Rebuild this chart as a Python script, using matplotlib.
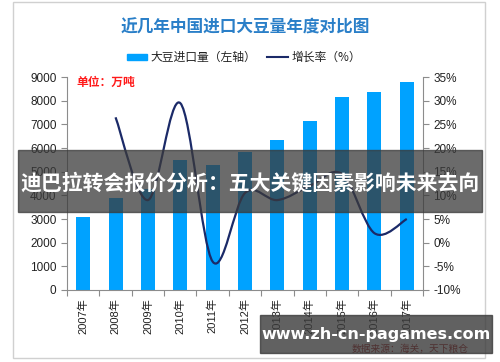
import numpy as np
import matplotlib
matplotlib.use("Agg")
import matplotlib.pyplot as plt
from matplotlib.path import Path
from matplotlib.patches import PathPatch, Rectangle

plt.rcParams['font.family'] = ['Liberation Sans', 'Noto Sans CJK SC', 'DejaVu Sans']

# 数据
years = ['2007年', '2008年', '2009年', '2010年', '2011年', '2012年',
         '2013年', '2014年', '2015年', '2016年', '2017年']
imports = [3082, 3900, 4255, 5480, 5264, 5838, 6338, 7140, 8169, 8391, 8775]
growth_years = [1, 2, 3, 4, 5, 6, 7, 8, 9, 10]
growth = [26.5, 9.0, 29.5, -4.0, 10.5, 9.0, 12.0, 14.5, 2.0, 5.0]

bar_color = '#00A2FF'
line_color = '#1B2A68'
axis_gray = '#8C8C8C'

fig = plt.figure(figsize=(5.0, 3.62), dpi=100)

# 图表外框
fig.patches.append(Rectangle((13 / 500, 0.01), 472 / 500, 0.985, transform=fig.transFigure,
                             fill=False, edgecolor='#D0D0D0', lw=1.0))

ax = fig.add_axes([0.134, 0.199, 0.712, 0.588])
x = np.arange(len(years))
ax.bar(x, imports, width=0.43, color=bar_color, zorder=2)
ax.set_xlim(-0.5, len(years) - 0.5)
ax.set_ylim(0, 9000)
ax.set_yticks(np.arange(0, 9001, 1000))
ax.tick_params(axis='y', labelsize=8.5, colors=axis_gray, labelcolor='#222222',
               direction='out', length=4)

# x 轴：刻度在类别之间，标签在中间
ax.set_xticks(np.arange(-0.5, len(years), 1.0))
ax.set_xticklabels([])
ax.tick_params(axis='x', which='major', direction='out', length=4, colors=axis_gray)
ax.set_xticks(x, minor=True)
ax.set_xticklabels(years, minor=True, rotation=90, fontsize=8, color='#222222')
ax.tick_params(axis='x', which='minor', length=0, pad=6)

for s in ['top', 'right']:
    ax.spines[s].set_visible(False)
for s in ['left', 'bottom']:
    ax.spines[s].set_color(axis_gray)

# 右轴：增长率
ax2 = ax.twinx()
ax2.set_ylim(-10, 35)
ax2.set_yticks(np.arange(-10, 36, 5))
ax2.set_yticklabels([f'{v}%' for v in range(-10, 36, 5)])
ax2.tick_params(axis='y', labelsize=8.5, colors=axis_gray, labelcolor='#222222',
                direction='out', length=4)
for s in ['top', 'left', 'bottom']:
    ax2.spines[s].set_visible(False)
ax2.spines['right'].set_color(axis_gray)

# 平滑曲线（贝塞尔）
px = np.array(growth_years, dtype=float)
py = np.array(growth, dtype=float)
pts = np.column_stack([px, py])
verts = [pts[0]]
codes = [Path.MOVETO]
n = len(pts)
for i in range(n - 1):
    p_prev = pts[i - 1] if i > 0 else pts[i]
    p_next2 = pts[i + 2] if i + 2 < n else pts[i + 1]
    c1 = pts[i] + (pts[i + 1] - p_prev) / 6.0
    c2 = pts[i + 1] - (p_next2 - pts[i]) / 6.0
    verts += [c1, c2, pts[i + 1]]
    codes += [Path.CURVE4] * 3
ax2.add_patch(PathPatch(Path(verts, codes), fill=False, edgecolor=line_color, lw=1.6, zorder=3))

# 标题和图例
fig.text(0.49, 0.925, '近几年中国进口大豆量年度对比图', ha='center', va='center',
         fontsize=12, color='#2A7FC8', fontweight='bold', family=['Noto Sans CJK SC'])
fig.patches.append(Rectangle((127 / 500, 1 - 60 / 362), 20 / 500, 6 / 362,
                             transform=fig.transFigure, color=bar_color))
fig.text(150 / 500, 1 - 57 / 362, '大豆进口量（左轴）', ha='left', va='center',
         fontsize=8.5, color='#222222', family=['Noto Sans CJK SC'])
fig.lines.append(plt.Line2D([267 / 500, 288 / 500], [1 - 57 / 362, 1 - 57 / 362],
                            transform=fig.transFigure, color=line_color, lw=1.5))
fig.text(292 / 500, 1 - 57 / 362, '增长率（%）', ha='left', va='center',
         fontsize=8.5, color='#222222', family=['Noto Sans CJK SC'])

fig.text(76 / 500, 1 - 82 / 362, '单位：万吨', ha='left', va='center',
         fontsize=8.5, color='#FF1A1A', fontweight='bold', family=['Noto Sans CJK SC'])

# 数据来源
fig.text(352 / 500, 1 - 349 / 362, '数据来源：海关，天下粮仓', ha='left', va='center',
         fontsize=7, color='#A01010', style='italic', family=['Noto Sans CJK SC'])

# 覆盖横幅
fig.patches.append(Rectangle((18 / 500, 1 - 212 / 362), 464 / 500, 62 / 362,
                             transform=fig.transFigure, color='#3A3A3A', alpha=0.75, zorder=10))
fig.text(250 / 500, 1 - 183 / 362, '迪巴拉转会报价分析：五大关键因素影响未来去向',
         ha='center', va='center', fontsize=15, color='white', fontweight='bold',
         family=['Noto Sans CJK SC'], zorder=11)
fig.patches.append(Rectangle((260 / 500, 1 - 353 / 362), 232 / 500, 38 / 362,
                             transform=fig.transFigure, color='#3A3A3A', alpha=0.8, zorder=10))
fig.text(376 / 500, 1 - 334 / 362, 'www.zh-cn-pagames.com', ha='center', va='center',
         fontsize=11.5, color='white', fontweight='bold', family=['DejaVu Sans'], zorder=11)

fig.savefig('out.png', dpi=100)
